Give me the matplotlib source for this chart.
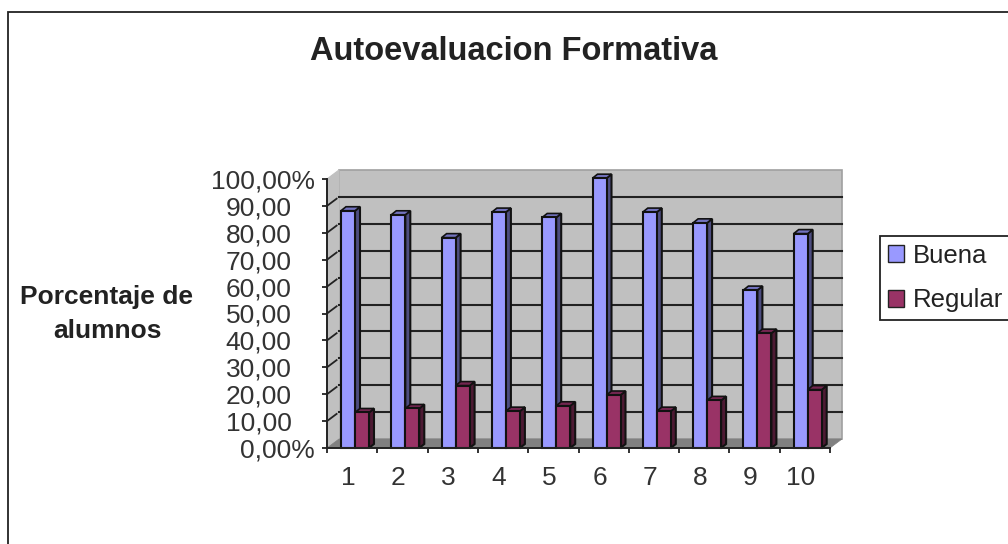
import matplotlib
matplotlib.use('Agg')
import matplotlib.pyplot as plt
import matplotlib.transforms as mtrans
from matplotlib.patches import Patch, Rectangle

plt.rcParams['font.family'] = ['Liberation Sans', 'DejaVu Sans']

categorias = ['1', '2', '3', '4', '5', '6', '7', '8', '9', '10']
buena = [88.2, 86.7, 78.2, 87.7, 85.7, 100.3, 87.7, 83.7, 58.7, 79.7]
regular = [13.2, 14.7, 23.2, 13.7, 15.7, 19.7, 13.7, 17.7, 42.7, 21.7]
marcas_y = [0, 10, 20, 30, 40, 50, 60, 70, 80, 90, 100]
etiquetas_y = ['0,00%', '10,00', '20,00', '30,00', '40,00', '50,00',
               '60,00', '70,00', '80,00', '90,00', '100,00%']

ANCHO, ALTO = 1008, 544
IZQ, DER, ARRIBA, ABAJO = 327, 830, 179, 448

fig = plt.figure(figsize=(ANCHO / 100, ALTO / 100), dpi=100)
ax = fig.add_axes([IZQ / ANCHO, 1 - ABAJO / ALTO, (DER - IZQ) / ANCHO, (ABAJO - ARRIBA) / ALTO])
ax.patch.set_visible(False)
ax.set_xlim(0, len(categorias))
ax.set_ylim(0, 100)

px_x = len(categorias) / (DER - IZQ)
px_y = 100 / (ABAJO - ARRIBA)
prof_x = 12 * px_x
prof_y = 9 * px_y
n = len(categorias)

# marco exterior del grafico
fig.add_artist(Rectangle((8 / ANCHO, -0.05), 1.1, 1.05 - 12 / ALTO, transform=fig.transFigure,
                         facecolor='white', edgecolor='#222222', linewidth=1.3, zorder=-5))

# paredes y piso
ax.fill([prof_x, n + prof_x, n + prof_x, prof_x], [prof_y, prof_y, 100 + prof_y, 100 + prof_y],
        facecolor='#C0C0C0', edgecolor='#A0A0A0', linewidth=1.2, clip_on=False, zorder=1)
ax.fill([0, prof_x, prof_x, 0], [0, prof_y, 100 + prof_y, 100],
        facecolor='#C0C0C0', edgecolor='#C0C0C0', linewidth=0.8, clip_on=False, zorder=1)
ax.fill([0, n, n + prof_x, prof_x], [0, 0, prof_y, prof_y],
        facecolor='#808080', edgecolor='#808080', linewidth=0.5, clip_on=False, zorder=1)

for m in marcas_y[1:-1]:
    ax.plot([prof_x, n + prof_x], [m + prof_y, m + prof_y], color='#222222', lw=1.5,
            clip_on=False, zorder=2)
    ax.plot([0, prof_x * 0.8], [m, m + prof_y * 0.8], color='#222222', lw=1.3,
            clip_on=False, zorder=2)

# barras con su cara lateral y superior
ancho_barra = 14 * px_x
inicio = 14 * px_x
dx = 5 * px_x
dy = 4 * px_y


def barra_3d(x, valor, frente, lado, techo, z):
    ax.bar(x, valor, width=ancho_barra, align='edge', color=frente, edgecolor='#111111',
           linewidth=1.5, clip_on=False, zorder=z + 0.2)
    ax.fill([x + ancho_barra, x + ancho_barra + dx, x + ancho_barra + dx, x + ancho_barra],
            [0, dy, valor + dy, valor], facecolor=lado, edgecolor='#111111', linewidth=1.5,
            clip_on=False, zorder=z)
    ax.fill([x, x + dx, x + ancho_barra + dx, x + ancho_barra],
            [valor, valor + dy, valor + dy, valor], facecolor=techo, edgecolor='#111111',
            linewidth=1.2, clip_on=False, zorder=z)


for i in range(n):
    barra_3d(i + inicio, buena[i], '#9999FF', '#4D4D80', '#7373BF', 3 + i)
    barra_3d(i + inicio + ancho_barra, regular[i], '#993366', '#4D1A33', '#732650', 3.5 + i)

# ejes
for lado in ['top', 'right']:
    ax.spines[lado].set_visible(False)
for lado in ['left', 'bottom']:
    ax.spines[lado].set_linewidth(1.4)
    ax.spines[lado].set_color('#222222')
    ax.spines[lado].set_zorder(20)

ax.set_yticks(marcas_y)
ax.set_yticklabels(etiquetas_y, fontsize=19, color='#333333')
ax.tick_params(axis='y', length=3.5, width=1.3, color='#222222')
for tick, etiqueta in zip(ax.yaxis.get_major_ticks(), etiquetas_y):
    tick.set_pad(5 if etiqueta.endswith('%') else 22)

ax.set_xticks(range(n + 1))
ax.tick_params(axis='x', which='major', length=3.5, width=1.3, color='#222222', labelbottom=False)
ax.set_xticks([i + 0.5 for i in range(n)], minor=True)
ax.set_xticklabels(categorias, minor=True, fontsize=19, color='#333333')
ax.tick_params(axis='x', which='minor', length=0, pad=13)
corrimiento = mtrans.ScaledTranslation(-4 / 100, 0, fig.dpi_scale_trans)
for etiqueta in ax.xaxis.get_minorticklabels():
    etiqueta.set_transform(etiqueta.get_transform() + corrimiento)

# textos
fig.text(514 / ANCHO, 1 - 52 / ALTO, 'Autoevaluacion Formativa', fontsize=23.5, fontweight='bold',
         ha='center', va='center', color='#222222')
fig.text(107 / ANCHO, 1 - 314 / ALTO, 'Porcentaje de\nalumnos', fontsize=19, fontweight='bold',
         ha='center', va='center', linespacing=1.5, color='#222222')

# leyenda
manijas = [Patch(facecolor='#9999FF', edgecolor='#222222', label='Buena'),
           Patch(facecolor='#993366', edgecolor='#222222', label='Regular')]
leyenda = fig.legend(handles=manijas, loc='lower left', bbox_to_anchor=(880 / ANCHO, 1 - 320 / ALTO),
                     fontsize=18.5, frameon=True, fancybox=False, edgecolor='#222222', framealpha=1,
                     labelcolor='#222222', handlelength=0.62, handleheight=0.62, handletextpad=0.35,
                     labelspacing=0.8, borderpad=0.3, borderaxespad=0)
leyenda.get_frame().set_linewidth(1.3)

fig.savefig('out.png', dpi=100)
